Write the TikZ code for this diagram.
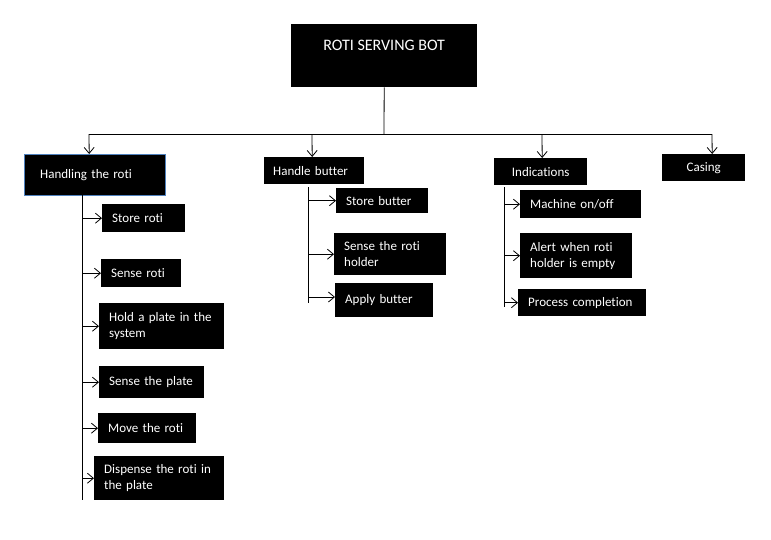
\documentclass[tikz,border=0pt]{standalone}
\usepackage{fontspec}
\setmainfont{Carlito}[Ligatures=NoCommon]
\usetikzlibrary{calc}
\usetikzlibrary{positioning}
\usetikzlibrary{arrows.meta}

\begin{document}
\begin{tikzpicture}[x=1pt,y=-1pt,
    >={Straight Barb[length=6pt,width=10pt]},
    line/.style={draw=black,line width=0.8pt},
    blk/.style={fill=black,text=white,inner sep=0pt,anchor=north west,
      font=\fontsize{13}{16}\selectfont},
    leaf/.style={blk,align=left,inner xsep=10pt}]
  \useasboundingbox (0,0) rectangle (771,539);

  % top box
  \node[blk,minimum width=186,minimum height=63,text height=10,text depth=21,
    font=\fontsize{16}{19}\selectfont] (title) at (291,24) {ROTI SERVING BOT};

  % second row
  \node[blk,draw={rgb,255:red,79;green,129;blue,189},align=left,inner xsep=16pt,
    text width=109,minimum height=41] (handling) at (24,154) {Handling the roti};
  \node[blk,align=left,inner xsep=9pt,text width=82,minimum height=27] (butter) at (264,157) {Handle butter};
  \node[blk,minimum width=93,minimum height=27] (indications) at (494,158) {Indications};
  \node[blk,minimum width=83,minimum height=27] (casing) at (662,154) {Casing};

  \coordinate (hub) at (384,134);
  \draw[line] (title.south) -- (hub);
  \draw[line] (hub) -- (89,134);
  \draw[line] (hub) -- (712,134);
  \draw[line,->] (89,134) -- ([xshift=-5.5]handling.north);
  \draw[line,->] (312,134) -- ([xshift=-2]butter.north);
  \draw[line,->] (542,134) -- ([xshift=1.5]indications.north);
  \draw[line,->] (712,134) -- ([xshift=8.5]casing.north);

  % handling the roti
  \node[leaf,text width=63,minimum height=28] (storeroti) at (102,204) {Store roti};
  \node[leaf,text width=60,minimum height=28] (senseroti) at (101,259) {Sense roti};
  \node[leaf,text width=105,minimum height=46] (holdplate) at (99,303) {Hold a plate in the\\system};
  \node[leaf,text width=85,minimum height=32] (senseplate) at (99,366) {Sense the plate};
  \node[leaf,text width=78,minimum height=30] (moveroti) at (98,413) {Move the roti};
  \node[leaf,text width=110,minimum height=44] (dispense) at (94,456) {Dispense the roti in\\the plate};

  \coordinate (htop) at (82,195);
  \coordinate (hbot) at (82,500);
  \draw[line] (htop) -- (hbot);
  \foreach \c in {storeroti,senseroti,holdplate,senseplate,moveroti,dispense}
    \draw[line,->] (htop |- \c.west) -- (\c.west);

  % handle butter
  \node[leaf,text width=72,minimum height=25] (storebutter) at (336,188) {Store butter};
  \node[leaf,text width=92,minimum height=42] (senseholder) at (334,233) {Sense the roti\\holder};
  \node[leaf,text width=78,minimum height=34] (applybutter) at (335,283) {Apply butter};

  \coordinate (btop) at (308,187);
  \coordinate (bbot) at (308,303);
  \draw[line] (btop) -- (bbot);
  \foreach \c in {storebutter,senseholder}
    \draw[line,->] (btop |- \c.west) -- (\c.west);
  \draw[line,->] (308,297) -- (applybutter.west |- 0,297);

  % indications
  \node[leaf,text width=101,minimum height=28] (machine) at (520,190) {Machine on/off};
  \node[leaf,text width=92,minimum height=45] (alert) at (520,233) {Alert when roti\\holder is empty};
  \node[leaf,text width=108,minimum height=27] (process) at (518,289) {Process completion};

  \coordinate (itop) at (504,187);
  \coordinate (ibot) at (504,307);
  \draw[line] (itop) -- (ibot);
  \foreach \c in {machine,alert,process}
    \draw[line,->] (itop |- \c.west) -- (\c.west);
\end{tikzpicture}
\end{document}
